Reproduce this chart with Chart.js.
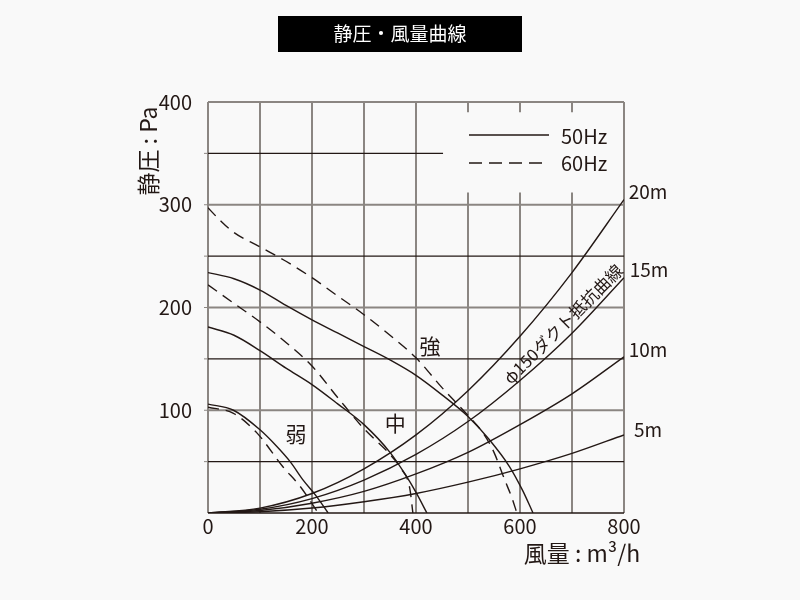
<!DOCTYPE html>
<html>
<head>
<meta charset="utf-8">
<script src="https://cdn.jsdelivr.net/npm/chart.js"></script>
<style>
html, body { margin: 0; padding: 0; background: #f9f9f9; }
#wrap { width: 800px; height: 600px; }
</style>
</head>
<body>
<div id="wrap"><canvas id="fanChart" width="800" height="600"></canvas></div>
<script>
// tick labels
const xTickValues = [0, 200, 400, 600, 800];
const yTickValues = [100, 200, 300, 400];

// fan curves [風量 m3/h, 静圧 Pa]
const strong50 = [[0,234],[50,228],[100,217],[150,202],[200,188],[250,175],[300,162],[350,149],[400,134],[450,115],[500,94],[540,72],[580,45],[605,22],[625,0]];
const strong60 = [[0,297],[25,284],[50,273],[100,259],[150,245],[200,229],[250,211],[300,193],[350,173],[400,151],[450,122],[500,95],[530,77],[550,59],[570,33],[585,14],[594,0]];
const mid50 = [[0,181],[50,173],[100,158],[150,141],[200,125],[250,106],[300,86],[350,59],[380,37],[400,20],[421,0]];
const mid60 = [[0,222],[50,204],[100,186],[150,166],[200,143],[250,112],[300,82],[350,57],[370,44],[388,24],[394,0]];
const weak50 = [[0,106],[49,100],[100,81],[132,65],[158,50],[183,32],[209,16],[231,0]];
const weak60 = [[0,103],[49,97],[94,78],[144,45],[177,26],[212,0]];

// φ150 duct resistance curves
const ductQ = [0, 100, 200, 300, 400, 500, 600, 700, 800];
const duct20m = [0, 4.8, 19, 43, 76, 119, 172, 234, 305];
const duct15m = [0, 3.6, 14, 32, 57, 89, 129, 175, 229];
const duct10m = [0, 2.4, 9.5, 21, 38, 59, 86, 116, 152];
const duct5m = [0, 1.2, 4.8, 11, 19, 30, 43, 58, 76];

const ink = '#231815';
const gridGray = '#8b8682';
const fontJP = "'Noto Sans CJK JP', 'Noto Sans', sans-serif";

const toXY = pts => pts.map(p => ({ x: p[0], y: p[1] }));
const ductXY = vals => ductQ.map((q, i) => ({ x: q, y: vals[i] }));

function curve(data, dashed) {
    return {
        data: data,
        borderColor: ink,
        borderWidth: 1.4,
        borderDash: dashed ? [11, 7] : [],
        pointRadius: 0,
        fill: false,
        cubicInterpolationMode: 'monotone'
    };
}

function line(c, x1, y1, x2, y2) {
    c.beginPath();
    c.moveTo(x1, y1);
    c.lineTo(x2, y2);
    c.stroke();
}

const decor = {
    id: 'decor',
    beforeDraw(chart) {
        const c = chart.ctx;
        c.save();
        c.fillStyle = '#f9f9f9';
        c.fillRect(0, 0, chart.width, chart.height);
        c.restore();
    },
    beforeDatasetsDraw(chart) {
        const c = chart.ctx;
        const x = chart.scales.x, y = chart.scales.y;
        const top = y.getPixelForValue(400), bottom = y.getPixelForValue(0);
        const left = x.getPixelForValue(0), right = x.getPixelForValue(800);
        c.save();
        // gray grid
        c.strokeStyle = gridGray;
        c.lineWidth = 2;
        [100, 200, 300, 400, 500, 600, 700, 800].forEach(v => {
            const px = x.getPixelForValue(v);
            if (v >= 500 && v <= 700) {
                line(c, px, top, px, y.getPixelForValue(390));
                line(c, px, y.getPixelForValue(312), px, bottom);
            } else {
                line(c, px, top, px, bottom);
            }
        });
        [100, 200, 300, 400].forEach(v => {
            const py = y.getPixelForValue(v);
            line(c, left, py, right, py);
        });
        line(c, left, top, left, bottom);
        // small ticks outside the y axis
        c.lineWidth = 1;
        for (let v = 50; v < 400; v += 50) {
            const py = y.getPixelForValue(v);
            line(c, left - 4, py, left, py);
        }
        // black lines at the 50s
        c.strokeStyle = ink;
        c.lineWidth = 1.3;
        [50, 150, 250].forEach(v => {
            const py = y.getPixelForValue(v);
            line(c, left, py, right, py);
        });
        line(c, left, y.getPixelForValue(350), x.getPixelForValue(452), y.getPixelForValue(350));
        c.lineWidth = 1.5;
        line(c, left, bottom, right, bottom);
        c.restore();
    },
    afterDraw(chart) {
        const c = chart.ctx;
        const x = chart.scales.x, y = chart.scales.y;
        c.save();
        // title box
        c.fillStyle = '#000';
        c.fillRect(278, 16, 244, 36);
        c.fillStyle = '#fff';
        c.font = '19px ' + fontJP;
        c.textAlign = 'center';
        c.textBaseline = 'middle';
        c.fillText('静圧・風量曲線', 400, 34);

        // legend
        c.strokeStyle = ink;
        c.lineWidth = 1.3;
        line(c, 469, 135, 549, 135);
        c.setLineDash([13, 7]);
        line(c, 469, 163, 549, 163);
        c.setLineDash([]);
        c.fillStyle = ink;
        c.font = '20px ' + fontJP;
        c.textAlign = 'left';
        c.fillText('50Hz', 561, 136);
        c.fillText('60Hz', 561, 163);

        // duct length labels
        c.font = '19px ' + fontJP;
        c.textAlign = 'center';
        c.fillText('20m', 648, 192);
        c.fillText('15m', 649, 270);
        c.fillText('10m', 648, 350);
        c.fillText('5m', 648, 430);

        // fan speed labels
        c.font = '21px ' + fontJP;
        c.fillText('強', x.getPixelForValue(427), y.getPixelForValue(163));
        c.fillText('中', x.getPixelForValue(360), y.getPixelForValue(88));
        c.fillText('弱', x.getPixelForValue(169), y.getPixelForValue(77));

        // rotated duct label
        c.save();
        c.translate(x.getPixelForValue(683), y.getPixelForValue(184));
        c.rotate(-45 * Math.PI / 180);
        c.font = '17px ' + fontJP;
        c.fillText('φ150ダクト抵抗曲線', 0, 0);
        c.restore();

        // axis titles
        c.font = '23px ' + fontJP;
        c.fillText('風量 : m³/h', 582, 553);
        c.save();
        c.translate(148, 151);
        c.rotate(-Math.PI / 2);
        c.fillText('静圧 : Pa', 0, 0);
        c.restore();
        c.restore();
    }
};

new Chart(document.getElementById('fanChart'), {
    type: 'line',
    data: {
        datasets: [
            curve(toXY(strong50), false),
            curve(toXY(strong60), true),
            curve(toXY(mid50), false),
            curve(toXY(mid60), true),
            curve(toXY(weak50), false),
            curve(toXY(weak60), true),
            curve(ductXY(duct20m), false),
            curve(ductXY(duct15m), false),
            curve(ductXY(duct10m), false),
            curve(ductXY(duct5m), false)
        ]
    },
    options: {
        responsive: false,
        animation: false,
        layout: { padding: { top: 102, right: 176, bottom: 0, left: 0 } },
        plugins: {
            legend: { display: false },
            tooltip: { enabled: false }
        },
        scales: {
            x: {
                type: 'linear',
                min: 0,
                max: 800,
                grid: { display: false },
                border: { display: false },
                afterBuildTicks: s => { s.ticks = xTickValues.map(v => ({ value: v })); },
                ticks: { color: ink, font: { size: 20, family: fontJP }, padding: -7, maxRotation: 0 },
                afterFit: s => { s.height = 87; }
            },
            y: {
                min: 0,
                max: 400,
                grid: { display: false },
                border: { display: false },
                afterBuildTicks: s => { s.ticks = yTickValues.map(v => ({ value: v })); },
                ticks: { color: ink, font: { size: 20, family: fontJP }, padding: 8 },
                afterFit: s => { s.width = 208; }
            }
        }
    },
    plugins: [decor]
});
</script>
</body>
</html>
